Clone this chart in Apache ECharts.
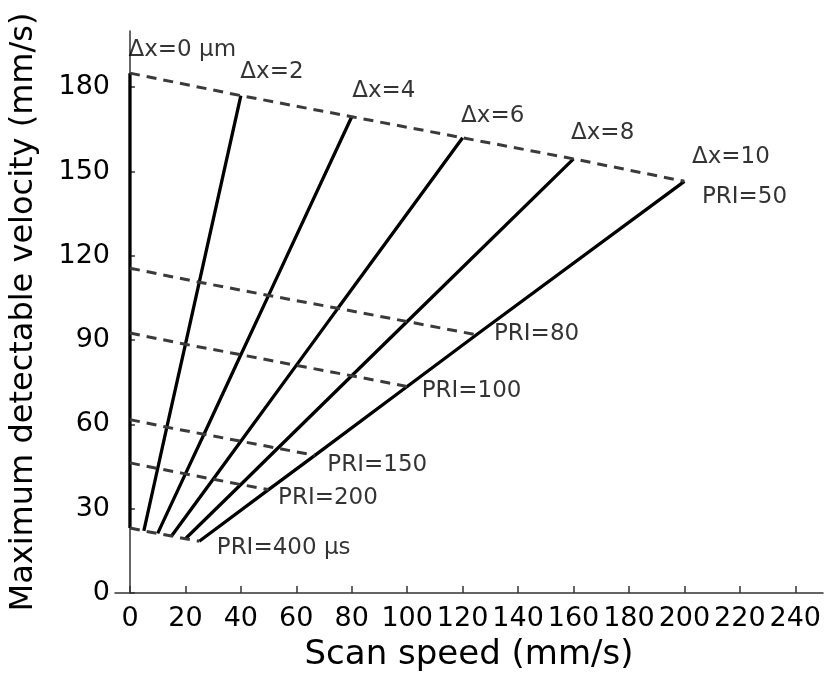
<!DOCTYPE html>
<html>
<head>
<meta charset="utf-8">
<script src="https://cdn.jsdelivr.net/npm/echarts@6/dist/echarts.min.js"></script>
<style>
  html, body { margin: 0; padding: 0; background: #fff; }
  #chart { width: 826px; height: 675px; }
</style>
</head>
<body>
<div id="chart"></div>
<script>
// Pulse repetition intervals (µs) and pixel offsets Δx (µm)
const priValues = [50, 80, 100, 150, 200, 400];
const dxValues = [0, 2, 4, 6, 8, 10];

// Scan speed (mm/s) for Δx = 0,2,4,6,8,10 at each PRI
const speedPri50  = [0, 40, 80, 120, 160, 200];
const speedPri80  = [0, 25, 50, 75, 100, 125];
const speedPri100 = [0, 20, 40, 60, 80, 100];
const speedPri150 = [0, 13.3, 26.7, 40, 53.3, 66.7];
const speedPri200 = [0, 10, 20, 30, 40, 50];
const speedPri400 = [0, 5, 10, 15, 20, 25];

// Maximum detectable velocity (mm/s) for Δx = 0,2,4,6,8,10 at each PRI
const velPri50  = [185, 177, 169.5, 162, 154.5, 146.5];
const velPri80  = [115.6, 110.6, 105.9, 101.3, 96.6, 91.9];
const velPri100 = [92.5, 88.5, 84.8, 81, 77.3, 73.5];
const velPri150 = [61.7, 59, 56.5, 54, 51.5, 49];
const velPri200 = [46.3, 44.3, 42.4, 40.5, 38.6, 36.8];
const velPri400 = [23.1, 22.1, 21.2, 20.3, 19.3, 18.4];

// Axis tick labels
const xTicks = [0, 20, 40, 60, 80, 100, 120, 140, 160, 180, 200, 220, 240];
const yTicks = [0, 30, 60, 90, 120, 150, 180];

const speedByPri = [speedPri50, speedPri80, speedPri100, speedPri150, speedPri200, speedPri400];
const velByPri = [velPri50, velPri80, velPri100, velPri150, velPri200, velPri400];

// Label text
const dxLabels = ['\u0394x=0 \u00b5m', '\u0394x=2', '\u0394x=4', '\u0394x=6', '\u0394x=8', '\u0394x=10'];
const priLabels = ['PRI=50', 'PRI=80', 'PRI=100', 'PRI=150', 'PRI=200', 'PRI=400 \u00b5s'];

// Label placement relative to the anchor point (px)
const dxLabelShift = [[-1, -23], [0, -23], [1, -25], [-1, -21], [-2, -25], [8, -24]];
const priLabelShift = [[18, 16], [18, 0], [15, 5], [13, 10], [10, 9], [18, 7]];

const FONT = 'DejaVu Sans';
const series = [];

// Constant-PRI curves (dashed)
priValues.forEach((pri, i) => {
  series.push({
    type: 'line',
    name: 'PRI ' + pri,
    data: speedByPri[i].map((s, k) => [s, velByPri[i][k]]),
    symbol: 'none',
    lineStyle: { color: '#3a3a3a', width: 3, type: [10, 7] },
    z: 3
  });
});

// Constant-Δx curves (solid), from longest to shortest PRI
dxValues.forEach((dx, k) => {
  const order = priValues.map((p, i) => i).reverse();
  series.push({
    type: 'line',
    name: '\u0394x ' + dx,
    data: order.map(i => [speedByPri[i][k], velByPri[i][k]]),
    symbol: 'none',
    lineStyle: { color: '#000', width: 3.3 },
    z: 2
  });
});

// Annotations anchored on curve end points
const annot = [];
dxValues.forEach((dx, k) => {
  annot.push({
    value: [speedPri50[k], velPri50[k]],
    label: { formatter: dxLabels[k], position: dxLabelShift[k] }
  });
});
priValues.forEach((pri, i) => {
  const last = speedByPri[i].length - 1;
  annot.push({
    value: [speedByPri[i][last], velByPri[i][last]],
    label: { formatter: priLabels[i], position: priLabelShift[i] }
  });
});
series.push({
  type: 'scatter',
  data: annot,
  symbolSize: 1,
  itemStyle: { color: 'rgba(0,0,0,0)' },
  label: {
    show: true,
    align: 'left',
    verticalAlign: 'middle',
    fontFamily: FONT,
    fontSize: 23,
    color: '#000'
  },
  silent: true,
  z: 5
});

const chart = echarts.init(document.getElementById('chart'), null, { renderer: 'canvas' });
chart.setOption({
  animation: false,
  backgroundColor: '#fff',
  grid: { left: 115, right: 3, top: 31, bottom: 82, containLabel: false, outerBoundsMode: 'none' },
  xAxis: {
    type: 'value',
    min: -5.4,
    max: 250,
    name: 'Scan speed (mm/s)',
    nameLocation: 'middle',
    nameGap: 45,
    nameTextStyle: { fontFamily: FONT, fontSize: 34, color: '#000' },
    axisLine: { show: true, lineStyle: { color: '#333', width: 1.5 } },
    axisTick: { show: true, inside: true, length: 7, customValues: xTicks, lineStyle: { color: '#333', width: 1.5 } },
    axisLabel: { customValues: xTicks, margin: 12, fontFamily: FONT, fontSize: 27, color: '#000' },
    splitLine: { show: false }
  },
  yAxis: {
    type: 'value',
    min: 0,
    max: 200,
    name: 'Maximum detectable velocity (mm/s)',
    nameLocation: 'middle',
    nameGap: 75,
    nameTextStyle: { fontFamily: FONT, fontSize: 32, color: '#000' },
    axisLine: { show: true, lineStyle: { color: '#333', width: 1.5 } },
    axisTick: { show: true, inside: true, length: 5, customValues: yTicks, lineStyle: { color: '#333', width: 1.5 } },
    axisLabel: { customValues: yTicks, margin: 5, fontFamily: FONT, fontSize: 27, color: '#000' },
    splitLine: { show: false }
  },
  series: series
});
</script>
</body>
</html>
